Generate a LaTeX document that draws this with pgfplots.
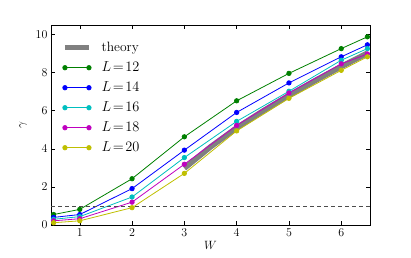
\documentclass[border=0pt]{standalone}
\usepackage{pgfplots}
\pgfplotsset{compat=1.18}
\definecolor{mg}{rgb}{0,0.5,0}
\definecolor{mb}{rgb}{0,0,1}
\definecolor{mc}{rgb}{0,0.75,0.75}
\definecolor{mm}{rgb}{0.75,0,0.75}
\definecolor{my}{rgb}{0.75,0.75,0}
\begin{document}
\begin{tikzpicture}
\begin{axis}[
  scale only axis, width=319pt, height=200pt,
  at={(0,0)}, anchor=south west,
  xmin=0.45, xmax=6.55, ymin=0, ymax=10.5,
  xtick={1,2,3,4,5,6}, ytick={0,2,4,6,8,10},
  tick align=inside, major tick length=4pt,
  tick style={black, line width=0.5pt},
  axis line style={line width=0.8pt},
  tick label style={font=\fontsize{11.5}{13}\selectfont},
  xlabel={$W$}, ylabel={$\gamma$},
  label style={font=\fontsize{12}{14}\selectfont},
  xlabel style={yshift=2pt},
  ylabel style={yshift=2pt},
  legend style={draw=none, fill=none, at={(axis description cs:0,1)}, anchor=north west,
    xshift=9pt, yshift=-12pt,
    font=\fontsize{13.5}{15}\selectfont, row sep=3pt, inner sep=2pt,
    nodes={text height=10pt, text depth=3pt}},
  legend cell align=left,
  legend image code/.code={\draw[#1] plot coordinates {(0pt,0pt) (24pt,0pt)};},
  every axis plot/.append style={line width=0.8pt, mark=*, mark size=2.2pt,
     mark options={draw=black, line width=0.3pt}},
]
\addplot[gray, line width=5.5pt, mark=none] coordinates {
 (3,2.98) (3.5,4.1) (4,5.1) (4.5,5.98) (5,6.8) (5.5,7.58) (6,8.32) (6.5,9.02)};
\addlegendentry{\hspace{8pt}theory}
\addplot[mg, mark options={fill=mg}] coordinates {
 (0.5,0.55) (1,0.82) (2,2.43) (3,4.63) (4,6.52) (5,7.96) (6,9.26) (6.5,9.88)};
\addlegendentry{\hspace{8pt}$L\!=\!12$}
\addplot[mb, mark options={fill=mb}] coordinates {
 (0.5,0.4) (1,0.55) (2,1.91) (3,3.93) (4,5.91) (5,7.46) (6,8.83) (6.5,9.46)};
\addlegendentry{\hspace{8pt}$L\!=\!14$}
\addplot[mc, mark options={fill=mc}] coordinates {
 (0.5,0.3) (1,0.44) (2,1.47) (3,3.54) (4,5.44) (5,7.02) (6,8.65) (6.5,9.26)};
\addlegendentry{\hspace{8pt}$L\!=\!16$}
\addplot[mm, mark options={fill=mm}] coordinates {
 (0.5,0.22) (1,0.33) (2,1.2) (3,3.19) (4,5.23) (5,6.93) (6,8.46) (6.5,8.98)};
\addlegendentry{\hspace{8pt}$L\!=\!18$}
\addplot[my, mark options={fill=my}] coordinates {
 (0.5,0.12) (1,0.22) (2,0.91) (3,2.71) (4,4.94) (5,6.65) (6,8.12) (6.5,8.83)};
\addlegendentry{\hspace{8pt}$L\!=\!20$}
\addplot[black!70, line width=0.8pt, mark=none, forget plot, dash pattern=on 4pt off 3pt] coordinates {(0.45,1) (6.55,1)};
\end{axis}
\pgfresetboundingbox
\path (-51pt,-32pt) rectangle (360pt,225pt);
\end{tikzpicture}
\end{document}
